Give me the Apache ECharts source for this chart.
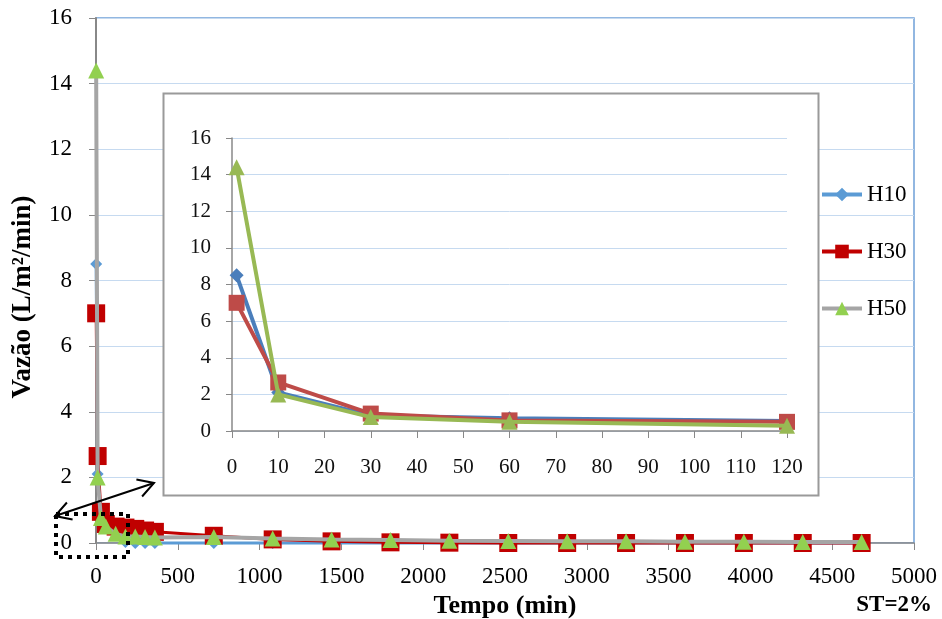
<!DOCTYPE html>
<html>
<head>
<meta charset="utf-8">
<script src="https://cdn.jsdelivr.net/npm/echarts@6/dist/echarts.min.js"></script>
<style>
html,body{margin:0;padding:0;background:#fff;}
#c{width:942px;height:619px;}
</style>
</head>
<body>
<div id="c"></div>
<script>
// ---- data ----
const seriesNames = ['H10', 'H30', 'H50'];
const times = [1, 10, 30, 60, 120, 180, 240, 300, 360, 720, 1080, 1440, 1800, 2160, 2520, 2880, 3240, 3600, 3960, 4320, 4680];
const h10 = [8.5, 2.1, 0.85, 0.7, 0.55, 0.03, 0.0, 0.0, 0.0, 0.0, 0.0, 0.0, 0.0, 0.0, 0.0, 0.0, 0.0, 0.0, 0.0, 0.0, 0.0];
const h30 = [7.0, 2.65, 0.95, 0.58, 0.5, 0.47, 0.43, 0.38, 0.34, 0.22, 0.11, 0.05, 0.02, 0.01, 0.0, 0.0, 0.0, 0.0, 0.0, 0.0, 0.0];
const h50 = [14.4, 2.0, 0.76, 0.5, 0.28, 0.2, 0.2, 0.18, 0.17, 0.18, 0.14, 0.11, 0.09, 0.07, 0.06, 0.05, 0.05, 0.04, 0.04, 0.03, 0.03];
const insetMaxTime = 120;
const mainXTicks = {min: 0, max: 5000, interval: 500};
const yTicks = {min: 0, max: 16, interval: 2};
const insetXTicks = {min: 0, max: 120, interval: 10};
const yAxisTitle = 'Vazão (L/m²/min)';
const xAxisTitle = 'Tempo (min)';
const note = 'ST=2%';

// ---- build ----
const pairs = (vals, maxT) => times.map((t, i) => [t, vals[i]]).filter(p => maxT === undefined || p[0] <= maxT);
const serif = "'Liberation Serif', 'Times New Roman', serif";
const plain = v => String(v);

const chart = echarts.init(document.getElementById('c'), null, {renderer: 'canvas'});

const mainStyles = [
  {line: '#5B9BD5', mark: '#5B9BD5', symbol: 'diamond', size: 12, width: 3},
  {line: '#C00000', mark: '#C00000', symbol: 'rect', size: 18, width: 3},
  {line: '#A5A5A5', mark: '#92D050', symbol: 'triangle', size: 16, width: 4}
];
const insetStyles = [
  {line: '#4A7EBB', mark: '#4A7EBB', symbol: 'diamond', size: 14, width: 4},
  {line: '#BE4B48', mark: '#BE4B48', symbol: 'rect', size: 16, width: 4},
  {line: '#98B954', mark: '#98B954', symbol: 'triangle', size: 16, width: 4}
];
const allVals = [h10, h30, h50];

const series = [];
allVals.forEach((v, i) => {
  const s = mainStyles[i];
  series.push({
    name: seriesNames[i], type: 'line', xAxisIndex: 0, yAxisIndex: 0,
    data: pairs(v), symbol: s.symbol, symbolSize: s.size, showAllSymbol: true,
    lineStyle: {color: s.line, width: s.width}, itemStyle: {color: s.mark},
    z: 2 + i, clip: false, animation: false
  });
});
allVals.forEach((v, i) => {
  const s = insetStyles[i];
  series.push({
    name: seriesNames[i] + ' (detalhe)', type: 'line', xAxisIndex: 1, yAxisIndex: 1,
    data: pairs(v, insetMaxTime), symbol: s.symbol, symbolSize: s.size, showAllSymbol: true,
    lineStyle: {color: s.line, width: s.width}, itemStyle: {color: s.mark},
    z: 12 + i, clip: false, animation: false
  });
});

const option = {
  backgroundColor: '#fff',
  animation: false,
  grid: [
    {left: 96, right: 28, top: 18, bottom: 76, outerBoundsMode: 'none', containLabel: false,
     show: true, borderColor: '#6FA0D8', borderWidth: 1.5, backgroundColor: 'transparent'},
    {left: 232, width: 555, top: 138, height: 293, z: 10, outerBoundsMode: 'none', containLabel: false}
  ],
  xAxis: [
    {
      type: 'value', gridIndex: 0, min: mainXTicks.min, max: mainXTicks.max, interval: mainXTicks.interval,
      name: xAxisTitle, nameLocation: 'middle', nameGap: 46,
      nameTextStyle: {fontFamily: serif, fontSize: 26, fontWeight: 'bold', color: '#000'},
      axisLine: {show: true, onZero: false, lineStyle: {color: '#888', width: 1.5}},
      axisTick: {show: true, length: 7, lineStyle: {color: '#888'}},
      axisLabel: {fontFamily: serif, fontSize: 23, color: '#000', margin: 22, formatter: plain},
      splitLine: {show: false}
    },
    {
      type: 'value', gridIndex: 1, min: insetXTicks.min, max: insetXTicks.max, interval: insetXTicks.interval, z: 10,
      axisLine: {show: true, onZero: false, lineStyle: {color: '#888', width: 1.5}},
      axisTick: {show: true, length: 7, lineStyle: {color: '#888'}},
      axisLabel: {fontFamily: serif, fontSize: 21, color: '#111', margin: 26, formatter: plain},
      splitLine: {show: false}
    }
  ],
  yAxis: [
    {
      type: 'value', gridIndex: 0, min: yTicks.min, max: yTicks.max, interval: yTicks.interval,
      axisLine: {show: true, lineStyle: {color: '#888', width: 2}},
      axisTick: {show: true, length: 7, lineStyle: {color: '#888'}},
      axisLabel: {fontFamily: serif, fontSize: 23, color: '#000', margin: 24, formatter: plain},
      splitLine: {show: true, lineStyle: {color: '#C6DAF0', width: 1}}
    },
    {
      type: 'value', gridIndex: 1, min: yTicks.min, max: yTicks.max, interval: yTicks.interval, z: 10,
      axisLine: {show: true, lineStyle: {color: '#888', width: 1.5}},
      axisTick: {show: true, length: 6, lineStyle: {color: '#888'}},
      axisLabel: {fontFamily: serif, fontSize: 21, color: '#111', margin: 21, formatter: plain},
      splitLine: {show: true, lineStyle: {color: '#C6DAF0', width: 1}}
    }
  ],
  legend: {
    data: seriesNames, orient: 'vertical', left: 820, top: 183, itemGap: 34, padding: 0,
    itemWidth: 40, itemHeight: 17,
    lineStyle: {width: 4},
    textStyle: {fontFamily: serif, fontSize: 23, color: '#000'},
    z: 20
  },
  graphic: [
    {type: 'rect', z: 5, shape: {x: 163.5, y: 93.5, width: 655, height: 402},
     style: {fill: '#fff', stroke: '#9A9A9A', lineWidth: 2}},
    {type: 'text', z: 20, x: 23, y: 297, rotation: Math.PI / 2,
     style: {text: yAxisTitle, fontFamily: serif, fontSize: 27, fontWeight: 'bold', fill: '#000',
             align: 'center', verticalAlign: 'middle'}},
    {type: 'text', z: 20, right: 10, top: 594,
     style: {text: note, fontFamily: serif, fontSize: 23, fontWeight: 'bold', fill: '#000'}},
    {type: 'rect', z: 20, shape: {x: 56, y: 514, width: 72, height: 43},
     style: {fill: 'none', stroke: '#000', lineWidth: 4, lineDash: [4, 5]}},
    {type: 'line', z: 20, shape: {x1: 55, y1: 516, x2: 154, y2: 483},
     style: {stroke: '#000', lineWidth: 2}},
    {type: 'polyline', z: 20, shape: {points: [[136.4, 479.4], [154, 483], [142.1, 496.5]]},
     style: {stroke: '#000', lineWidth: 2, fill: 'none'}},
    {type: 'polyline', z: 20, shape: {points: [[72.6, 519.6], [55, 516], [66.9, 502.5]]},
     style: {stroke: '#000', lineWidth: 2, fill: 'none'}}
  ],
  series: series
};
chart.setOption(option);
</script>
</body>
</html>
